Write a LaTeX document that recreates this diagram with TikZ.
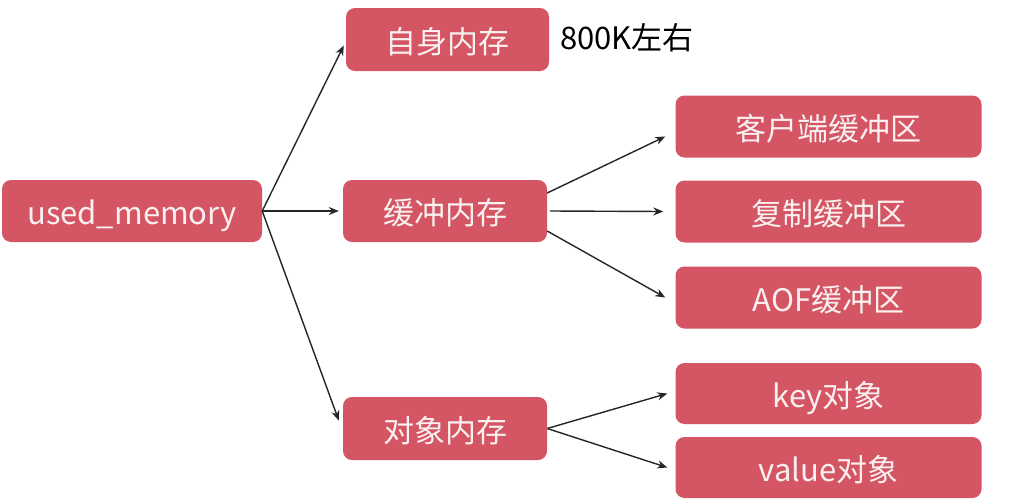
\documentclass[tikz,border=0pt]{standalone}
\usepackage{fontspec}
\setmainfont{Noto Sans CJK SC}
\usetikzlibrary{arrows.meta}
\definecolor{boxred}{RGB}{212,85,99}
\definecolor{boxtext}{RGB}{250,240,240}
\begin{document}
\begin{tikzpicture}[x=1pt,y=-1pt,
  box/.style={draw=none,fill=boxred,rounded corners=9pt,text=boxtext,
    font=\fontsize{31}{34}\selectfont,inner sep=0pt,anchor=center,
    text height=28pt,text depth=0.5pt},
  conn/.style={line width=1.4pt,-{Stealth[length=10pt,width=8pt]},black!85}]
\useasboundingbox[fill=white] (0,0) rectangle (1012,498);
\node[box,minimum width=260pt,minimum height=62pt] (used) at (132,211) {used\_memory};
\node[box,minimum width=203pt,minimum height=63pt] (self) at (447.5,39.5) {自身内存};
\node[anchor=west,font=\fontsize{31}{34}\selectfont,inner sep=0pt] (k800) at (560,38) {800K左右};
\node[box,minimum width=204pt,minimum height=62pt] (buf) at (445,211) {缓冲内存};
\node[box,minimum width=204pt,minimum height=63pt] (obj) at (445,428.5) {对象内存};
\node[box,minimum width=306pt,minimum height=62pt] (cli) at (828.5,126.5) {客户端缓冲区};
\node[box,minimum width=306pt,minimum height=62pt] (rep) at (828.5,211.5) {复制缓冲区};
\node[box,minimum width=306pt,minimum height=62pt] (aof) at (828.5,297.5) {AOF缓冲区};
\node[box,minimum width=306pt,minimum height=61pt] (key) at (828.5,393.5) {key对象};
\node[box,minimum width=306pt,minimum height=61pt] (val) at (828.5,467.5) {value对象};
\draw[conn] (used.east) -- ([xshift=-2pt,yshift=-6pt]self.west);
\draw[conn] (used.east) -- ([xshift=-4pt]buf.west);
\draw[conn] (used.east) -- ([xshift=-4pt,yshift=8pt]obj.west);
\draw[conn] ([yshift=18pt]buf.east) -- ([xshift=-10pt,yshift=-10pt]cli.west);
\draw[conn] ([xshift=3pt]buf.east) -- ([xshift=-12pt]rep.west);
\draw[conn] ([yshift=-20pt]buf.east) -- ([xshift=-10pt]aof.west);
\draw[conn] (obj.east) -- ([xshift=-8pt]key.west);
\draw[conn] (obj.east) -- ([xshift=-8pt]val.west);
\end{tikzpicture}
\end{document}
